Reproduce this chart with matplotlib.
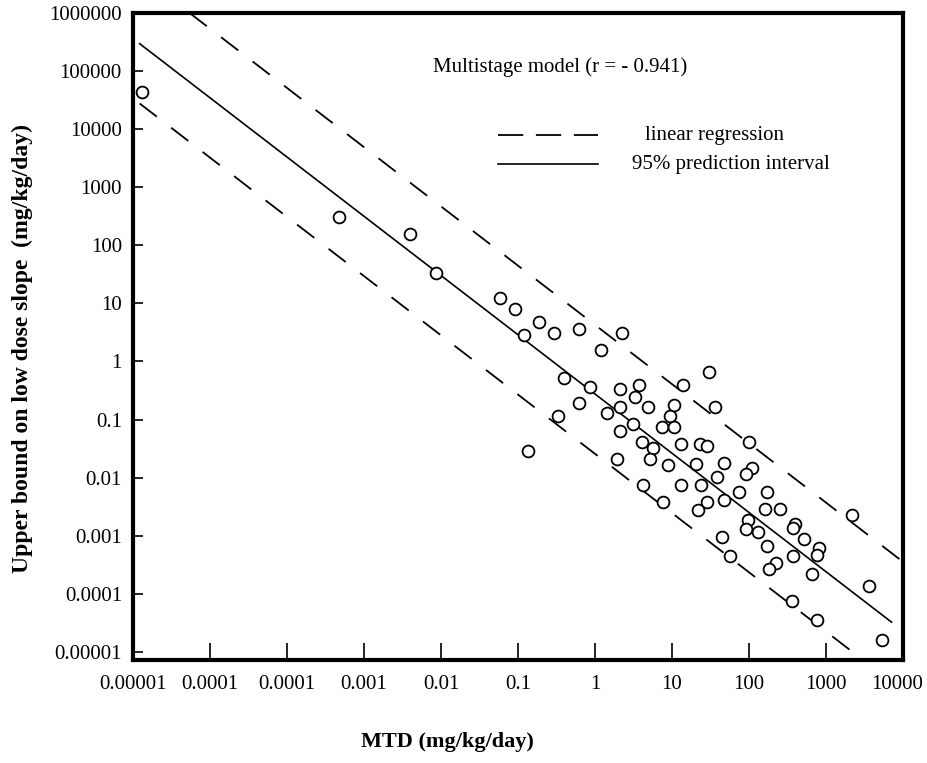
import numpy as np
import matplotlib
matplotlib.use("Agg")
import matplotlib.pyplot as plt
from matplotlib.lines import Line2D
from matplotlib.transforms import ScaledTranslation
from matplotlib.ticker import FixedLocator, FixedFormatter, NullLocator

plt.rcParams['font.family'] = ['Liberation Serif', 'DejaVu Serif']

# MTD (mg/kg/day) vs upper bound on low dose slope
mtd = [1.3e-6, 4.8e-4, 4.0e-3, 8.6e-3, 0.058, 0.091, 0.186, 0.120, 0.294, 0.625,
       2.26, 1.20, 0.40, 0.87, 0.625, 0.328, 2.13, 3.76, 3.31, 2.13,
       1.44, 3.14, 2.12, 4.07, 0.136, 4.92, 5.61, 1.91, 5.18, 8.79,
       4.16, 7.71, 13.1, 7.35, 9.42, 10.7, 10.7, 14.0, 30.3, 36.5,
       13.1, 23.1, 28.2, 20.3, 23.6, 28.2, 21.6, 47.3, 38.7, 47.3,
       74.1, 101, 108, 90.6, 173, 161, 253, 97, 91.4, 132,
       171, 44.6, 56.6, 222, 182, 376, 396, 370, 518, 819,
       757, 664, 359, 757, 2158, 3614, 5290]
slope = [4.4e4, 310, 155, 34, 12.3, 7.9, 4.7, 2.87, 3.14, 3.68,
         3.14, 1.58, 0.516, 0.37, 0.191, 0.117, 0.342, 0.395, 0.249, 0.164,
         0.128, 0.0827, 0.064, 0.0418, 0.0289, 0.163, 0.033, 0.0208, 0.0208, 0.0164,
         0.0075, 0.00379, 0.0075, 0.0759, 0.113, 0.177, 0.0759, 0.395, 0.67, 0.163,
         0.0382, 0.0382, 0.0353, 0.0173, 0.0075, 0.00379, 0.00272, 0.0178, 0.0104, 0.00404,
         0.0057, 0.0408, 0.0149, 0.0116, 0.0057, 0.00287, 0.00287, 0.00183, 0.00132, 0.00114,
         0.00067, 0.000946, 0.000439, 0.000337, 0.000269, 0.000439, 0.00158, 0.00135, 0.000875, 0.000612,
         0.000469, 0.000221, 7.4e-5, 3.5e-5, 0.00223, 1.37e-4, 1.6e-5]

# fitted line in log-log space: log10(y) = a + b*log10(x)
fit_b = -1.02
fit_a = -0.56
upper_a = 0.63
lower_a = -1.59

x_ticks = [1e-6, 1e-5, 1e-4, 1e-3, 1e-2, 1e-1, 1, 10, 100, 1000, 10000]
x_labels = ['0.00001', '0.0001', '0.0001', '0.001', '0.01', '0.1', '1', '10', '100', '1000', '10000']
y_ticks = [1e-5, 1e-4, 1e-3, 1e-2, 1e-1, 1, 10, 100, 1000, 10000, 100000, 1000000]
y_labels = ['0.00001', '0.0001', '0.001', '0.01', '0.1', '1', '10', '100', '1000', '10000', '100000', '1000000']

fig = plt.figure(figsize=(9.27, 7.63), dpi=100)
ax = fig.add_axes([133/927, 1-660/763, 770/927, 647/763])
ax.set_xscale('log')
ax.set_yscale('log')
ax.set_xlim(1e-6, 1e4)
ax.set_ylim(10**-5.14, 1e6)

xx = np.logspace(np.log10(1.22e-6), np.log10(7100), 200)
xu = np.logspace((6 - upper_a)/fit_b, 4.0, 200)
ax.plot(xx, 10**(fit_a + fit_b*np.log10(xx)), color='black', lw=1.2)
ax.plot(xu, 10**(upper_a + fit_b*np.log10(xu)), color='black', lw=1.3, dashes=(12, 10))
ax.plot(xx, 10**(lower_a + fit_b*np.log10(xx)), color='black', lw=1.3, dashes=(12, 10))

ax.plot(mtd, slope, 'o', mfc='white', mec='black', ms=8.5, mew=1.3, zorder=3)

ax.xaxis.set_major_locator(FixedLocator(x_ticks))
ax.xaxis.set_major_formatter(FixedFormatter(x_labels))
ax.yaxis.set_major_locator(FixedLocator(y_ticks))
ax.yaxis.set_major_formatter(FixedFormatter(y_labels))
ax.xaxis.set_minor_locator(NullLocator())
ax.yaxis.set_minor_locator(NullLocator())
ax.tick_params(axis='x', direction='in', length=12, width=1.2, pad=11, labelsize=15)
ax.tick_params(axis='y', direction='in', length=7, width=1.2, pad=8, labelsize=15)
for s in ax.spines.values():
    s.set_linewidth(3)

# last x label sits a little left of its tick in the original
fig.canvas.draw()
last = ax.get_xticklabels()[-1]
last.set_transform(last.get_transform() + ScaledTranslation(-6/100, 0, fig.dpi_scale_trans))

ax.set_xlabel('MTD (mg/kg/day)', fontsize=16, fontweight='bold')
ax.xaxis.set_label_coords(0.409, -0.111)
ax.set_ylabel('Upper bound on low dose slope  (mg/kg/day)', fontsize=17, fontweight='bold')
ax.yaxis.set_label_coords(-0.130, 0.482)

ax.text(0.39, 0.9165, 'Multistage model (r = - 0.941)', transform=ax.transAxes,
        fontsize=15, va='center', ha='left')

# legend keys drawn by hand (labels are not aligned in the original)
ax.add_line(Line2D([0.474, 0.604], [0.8114, 0.8114], transform=ax.transAxes,
                   color='black', lw=1.3, dashes=(14, 7)))
ax.add_line(Line2D([0.474, 0.604], [0.7666, 0.7666], transform=ax.transAxes,
                   color='black', lw=1.2))
ax.text(0.665, 0.8114, 'linear regression', transform=ax.transAxes,
        fontsize=15, va='center', ha='left')
ax.text(0.648, 0.7666, '95% prediction interval', transform=ax.transAxes,
        fontsize=15, va='center', ha='left')

plt.savefig('out.png', dpi=100)
